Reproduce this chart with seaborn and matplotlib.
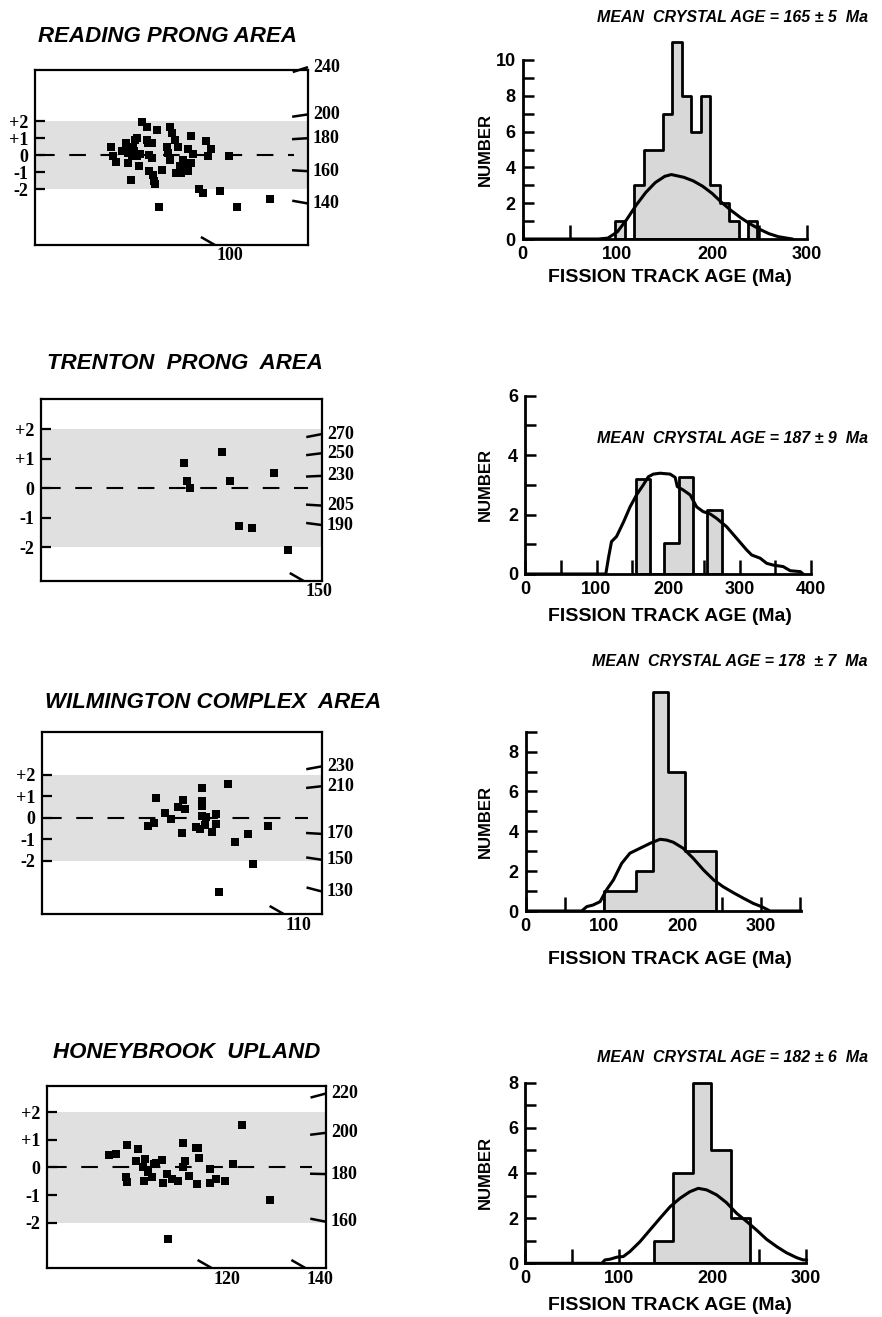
import matplotlib
matplotlib.use("Agg")
import numpy as np
import pandas as pd
import matplotlib.pyplot as plt
import seaborn as sns

# ------------------------------------------------------------------ data
region_titles = ["READING PRONG AREA", "TRENTON  PRONG  AREA",
                 "WILMINGTON COMPLEX  AREA", "HONEYBROOK  UPLAND"]
mean_age_texts = ["MEAN  CRYSTAL AGE = 165 \u00b1 5  Ma",
                  "MEAN  CRYSTAL AGE = 187 \u00b1 9  Ma",
                  "MEAN  CRYSTAL AGE = 178  \u00b1 7  Ma",
                  "MEAN  CRYSTAL AGE = 182 \u00b1 6  Ma"]
sigma_tick_values = [2, 1, 0, -1, -2]
sigma_tick_labels = ["+2", "+1", "0", "-1", "-2"]

# radial plots: x = relative precision (% of axis width), y = standardised estimate
reading_x = [27.7, 28.7, 29.8, 31.8, 33.5, 33.9, 35.0, 34.5, 35.4, 36.0, 36.6, 37.2, 37.4,
             38.0, 39.3, 40.9, 40.9, 41.5, 41.7, 42.7, 42.9, 43.3, 43.5, 43.9, 44.8, 45.4,
             46.5, 48.5, 48.8, 49.6, 50.0, 49.4, 51.2, 51.6, 52.4, 53.0, 53.4, 54.3, 54.9,
             55.5, 55.9, 56.1, 57.0, 57.3, 57.9, 60.1, 61.6, 62.6, 63.4, 64.6, 67.7, 71.1,
             73.9, 86.2, 34.0, 36.2, 38.6, 41.8]
reading_y = [0.49, -0.08, -0.43, 0.21, 0.70, -0.49, -1.44, 0.31, -0.08, 0.50, 0.89, 0.99,
             -0.08, -0.66, 1.96, 1.67, 0.89, 0.70, -0.95, -0.17, 0.70, -1.15, -1.53, -1.73,
             1.48, -3.03, -0.89, 0.50, 0.12, 1.67, 1.28, -0.27, 0.89, -1.05, 0.50, -0.66,
             -1.05, -0.27, -0.85, -0.47, -0.95, 0.37, -0.47, 1.13, 0.08, -2.02, -2.25, 0.80,
             -0.08, 0.35, -2.12, -0.08, -3.03, -2.60, 0.10, 0.22, 0.05, 0.02]
trenton_x = [50.9, 52.0, 53.2, 64.4, 67.3, 70.5, 75.1, 83.0, 87.8]
trenton_y = [0.84, 0.23, 0.0, 1.24, 0.25, -1.27, -1.36, 0.53, -2.09]
wilmington_x = [37.7, 40.0, 40.7, 43.8, 45.9, 48.7, 49.9, 50.4, 51.2, 54.9, 56.4, 57.2, 57.0,
                57.2, 57.3, 58.5, 58.3, 60.6, 62.2, 62.2, 63.2, 66.3, 69.1, 73.5, 75.2, 80.8]
wilmington_y = [-0.37, -0.23, 0.89, 0.23, -0.08, 0.48, -0.69, 0.82, 0.42, -0.45, -0.52, 1.38,
                0.78, 0.54, 0.09, 0.05, -0.34, -0.68, 0.17, -0.31, -3.43, 1.58, -1.12, -0.75,
                -2.14, -0.37]
honeybrook_x = [22.3, 24.9, 28.6, 28.3, 28.5, 31.9, 32.6, 34.5, 34.7, 35.3, 36.3, 37.7, 38.3,
                39.0, 41.3, 41.4, 43.1, 43.2, 44.9, 46.8, 48.6, 48.9, 49.6, 50.9, 53.4, 54.1,
                54.6, 53.9, 58.4, 58.4, 60.4, 63.7, 66.8, 69.8, 79.8]
honeybrook_y = [0.45, 0.48, 0.81, -0.34, -0.52, 0.23, 0.66, 0.0, -0.48, 0.30, -0.16, -0.34,
                0.11, 0.17, 0.27, -0.55, -0.24, -2.60, -0.40, -0.48, 0.87, 0.0, 0.24, -0.30,
                0.69, 0.69, 0.33, -0.61, -0.07, -0.55, -0.40, -0.48, 0.12, 1.55, -1.18]

# radial age-scale labels (Ma) and precision-scale labels
reading_age_labels = [240, 200, 180, 160, 140]
trenton_age_labels = [270, 250, 230, 205, 190]
wilmington_age_labels = [230, 210, 170, 150, 130]
honeybrook_age_labels = [220, 200, 180, 160]
reading_prec_labels = [100]
trenton_prec_labels = [150]
wilmington_prec_labels = [110]
honeybrook_prec_labels = [120, 140]

# histograms: bin edges (Ma) and counts
reading_edges = [98, 108, 118, 128, 138, 148, 158, 168, 178, 188, 198, 208, 218, 228, 238, 248]
reading_counts = [1, 0, 3, 5, 5, 7, 11, 8, 6, 8, 3, 2, 1, 0, 1]
trenton_edges = [155, 175, 195, 215, 235, 255, 275]
trenton_counts = [3.2, 0, 1.05, 3.25, 0, 2.15]
wilmington_edges = [100, 121, 141, 162, 182, 203, 223, 243]
wilmington_counts = [1, 1, 2, 11, 7, 3, 3]
honeybrook_edges = [138, 158, 179, 199, 220, 240]
honeybrook_counts = [1, 4, 8, 5, 2]

# probability-density curves
reading_curve_x = [0, 80, 90, 100, 110, 120, 130, 140, 150, 157, 170, 180, 190, 200, 210, 220,
                   230, 240, 250, 260, 270, 280, 285]
reading_curve_y = [0, 0, 0.05, 0.4, 1.1, 1.9, 2.6, 3.15, 3.5, 3.6, 3.45, 3.25, 2.95, 2.55, 2.05,
                   1.6, 1.2, 0.85, 0.55, 0.3, 0.13, 0.04, 0]
trenton_curve_x = [0, 113, 117, 121, 128, 138, 147, 156, 165.5, 172.5, 179.5, 189, 203, 210, 213,
                   221, 231, 240, 249, 259, 268, 282, 296, 310, 317, 329, 338, 347, 361, 371,
                   385, 389]
trenton_curve_y = [0, 0, 0.58, 1.09, 1.26, 1.76, 2.26, 2.66, 3.0, 3.27, 3.36, 3.39, 3.36, 3.25,
                   2.94, 2.83, 2.66, 2.26, 2.1, 2.02, 1.87, 1.59, 1.2, 0.81, 0.64, 0.53, 0.36,
                   0.30, 0.25, 0.11, 0.08, 0]
wilmington_curve_x = [0, 71.5, 78, 86, 95, 103, 112, 122.5, 133, 146, 159, 171.5, 180, 188.5,
                      201, 214, 227, 240, 252, 265, 278, 290.6, 301, 312, 352]
wilmington_curve_y = [0, 0, 0.22, 0.30, 0.47, 1.05, 1.56, 2.39, 2.9, 3.15, 3.4, 3.6, 3.56, 3.45,
                      3.15, 2.64, 2.06, 1.56, 1.22, 0.92, 0.64, 0.38, 0.22, 0, 0]
honeybrook_curve_x = [0, 82, 85.4, 90.7, 97.9, 105, 112, 122.8, 133.5, 144, 155, 165.5, 176, 185,
                      194, 204.6, 215, 226, 236.7, 247, 258, 268.7, 279, 290, 297, 300.7]
honeybrook_curve_y = [0, 0, 0.15, 0.18, 0.27, 0.30, 0.52, 0.96, 1.48, 1.99, 2.51, 2.88, 3.17,
                      3.32, 3.25, 3.03, 2.69, 2.21, 1.85, 1.48, 1.06, 0.74, 0.47, 0.25, 0.15, 0.15]

# ------------------------------------------------------------------ layout (pixels)
W, H = 882, 1317
radial_boxes = [(35, 70, 308, 245), (41, 399, 322, 581), (42, 732, 322, 914), (47, 1086, 326, 1268)]
radial_ylims = [(-5.29, 5.0), (-3.15, 3.03), (-4.46, 3.97), (-3.63, 2.94)]
age_tick_y = [[5.17, 2.39, 0.99, -0.95, -2.85],
              [1.84, 1.19, 0.42, -0.59, -1.25],
              [2.38, 1.46, -0.75, -1.95, -3.42],
              [2.67, 1.25, -0.24, -1.96]]
prec_tick_x = [[65.9], [93.5], [86.3], [59.0, 92.6]]
title_pos = [(38, 37), (47, 363), (45, 702), (53, 1053)]

# histogram axes: (x of age 0, y of count 0, px per Ma, px per count, xlim max, ylim max,
#                  x spine end, y spine end)
hist_geom = [(522.7, 239.0, 0.9467, 17.9, 310, 11.6, 300, 10),
             (525.0, 574.0, 0.715, 29.73, 410, 6.3, 400, 6),
             (525.7, 911.0, 0.7833, 19.92, 360, 11.6, 352, 9),
             (525.0, 1263.3, 0.9367, 22.58, 310, 8.5, 300, 8)]
mean_text_y = [18, 439, 662, 1058]
xlabel_y = [277, 617, 960, 1306]

BAND = "#e0e0e0"
FILL = "#d8d8d8"
SERIF = ["Liberation Serif", "DejaVu Serif"]
SANS = ["Liberation Sans", "DejaVu Sans"]

sns.set_theme(style="white")
plt.rcParams["font.family"] = SANS
plt.rcParams["text.color"] = "black"
plt.rcParams["axes.edgecolor"] = "black"
plt.rcParams["xtick.color"] = "black"
plt.rcParams["ytick.color"] = "black"

fig = plt.figure(figsize=(W / 100, H / 100), dpi=100)
fig.patch.set_facecolor("white")


def add_px_axes(x0, y0, x1, y1):
    return fig.add_axes([x0 / W, 1 - y1 / H, (x1 - x0) / W, (y1 - y0) / H])


def radial_panel(i, xs, ys, age_labels, prec_labels):
    ax = add_px_axes(*radial_boxes[i])
    ax.set_facecolor("white")
    sns.scatterplot(x=xs, y=ys, marker="s", s=32, color="black", edgecolor="black",
                    linewidth=0, ax=ax, zorder=4, legend=False)
    ax.set_xlim(0, 100)
    ax.set_ylim(*radial_ylims[i])
    ax.axhspan(-2, 2, color=BAND, lw=0, zorder=0)
    ax.axhline(0, xmin=0.01, xmax=0.95, color="black", lw=1.5, dashes=(8, 7), zorder=2)
    ax.set_xlabel("")
    ax.set_ylabel("")
    for sp in ax.spines.values():
        sp.set_visible(True)
        sp.set_linewidth(1.6)
        sp.set_color("black")
    ax.set_xticks([])
    ax.set_yticks(sigma_tick_values, sigma_tick_labels)
    ax.tick_params(axis="y", direction="in", length=7, width=1.6, pad=5, labelsize=13, left=True)
    for lab in ax.get_yticklabels():
        lab.set_fontfamily(SERIF)
        lab.set_fontweight("bold")
    to_disp = ax.transData.transform
    inv = ax.transData.inverted().transform
    origin = np.array(to_disp((0, 0)))
    for lab, yv in zip(age_labels, age_tick_y[i]):
        p = np.array(to_disp((100, yv)))
        d = origin - p
        d = d / np.hypot(*d) * 16
        q = inv(p + d)
        ax.plot([100, q[0]], [yv, q[1]], color="black", lw=1.8, clip_on=False,
                solid_capstyle="butt", zorder=5)
        ax.annotate(str(lab), (100, yv), xytext=(5, 0), textcoords="offset pixels",
                    ha="left", va="center", fontsize=13, fontweight="bold", family=SERIF,
                    annotation_clip=False)
    y0 = radial_ylims[i][0]
    for lab, xv in zip(prec_labels, prec_tick_x[i]):
        p = np.array(to_disp((xv, y0)))
        q = inv(p + np.array([-14, 8]))
        ax.plot([xv, q[0]], [y0, q[1]], color="black", lw=1.8, clip_on=False,
                solid_capstyle="butt", zorder=5)
        ax.annotate(str(lab), (xv, y0), xytext=(15, -11), textcoords="offset pixels",
                    ha="center", va="center", fontsize=13, fontweight="bold", family=SERIF,
                    annotation_clip=False)
    tx, ty = title_pos[i]
    fig.text(tx / W, 1 - ty / H, region_titles[i], fontsize=16, fontweight="bold",
             style="italic", ha="left", va="center", family=SANS)
    return ax


def hist_panel(i, edges, counts, cx, cy):
    x0, y0, sx, sy, xmax, ymax, xb, yb = hist_geom[i]
    ax = add_px_axes(x0, y0 - ymax * sy, x0 + xmax * sx, y0)
    ax.set_facecolor("none")
    e = np.asarray(edges, dtype=float)
    df = pd.DataFrame({"age": (e[:-1] + e[1:]) / 2, "n": list(counts)})
    sns.histplot(data=df, x="age", weights="n", bins=list(edges), element="step", fill=True,
                 facecolor=FILL, edgecolor="black", linewidth=2.0, alpha=1, ax=ax, zorder=2)
    cdf = pd.DataFrame({"age": cx, "p": cy})
    sns.lineplot(data=cdf, x="age", y="p", color="black", linewidth=2.2, ax=ax, zorder=3)
    ax.set_xlim(0, xmax)
    ax.set_ylim(0, ymax)
    ax.set_xlabel("")
    ax.set_ylabel("")
    for s in ("top", "right"):
        ax.spines[s].set_visible(False)
    for s in ("left", "bottom"):
        ax.spines[s].set_visible(True)
        ax.spines[s].set_linewidth(2.0)
        ax.spines[s].set_color("black")
    ax.spines["bottom"].set_bounds(0, xb)
    ax.spines["left"].set_bounds(0, yb)
    xt = np.arange(0, xb + 1, 50)
    ax.set_xticks(xt, [str(v) if v % 100 == 0 else "" for v in xt])
    yt = np.arange(0, yb + 1, 1)
    ax.set_yticks(yt, [str(v) if v % 2 == 0 else "" for v in yt])
    ax.tick_params(axis="x", direction="in", length=10, width=1.8, pad=5, labelsize=13,
                   bottom=True)
    ax.tick_params(axis="y", direction="in", length=8, width=1.8, pad=5, labelsize=13,
                   left=True)
    for lab in ax.get_xticklabels() + ax.get_yticklabels():
        lab.set_fontweight("bold")
    fig.text(868 / W, 1 - mean_text_y[i] / H, mean_age_texts[i], fontsize=11.5,
             fontweight="bold", style="italic", ha="right", va="center")
    fig.text(485 / W, 1 - (y0 - yb * sy / 2) / H, "NUMBER", rotation=90, fontsize=12,
             fontweight="bold", ha="center", va="center")
    fig.text(670 / W, 1 - xlabel_y[i] / H, "FISSION TRACK AGE (Ma)", fontsize=14,
             fontweight="bold", ha="center", va="center")
    return ax


radial_panel(0, reading_x, reading_y, reading_age_labels, reading_prec_labels)
radial_panel(1, trenton_x, trenton_y, trenton_age_labels, trenton_prec_labels)
radial_panel(2, wilmington_x, wilmington_y, wilmington_age_labels, wilmington_prec_labels)
radial_panel(3, honeybrook_x, honeybrook_y, honeybrook_age_labels, honeybrook_prec_labels)

hist_panel(0, reading_edges, reading_counts, reading_curve_x, reading_curve_y)
hist_panel(1, trenton_edges, trenton_counts, trenton_curve_x, trenton_curve_y)
hist_panel(2, wilmington_edges, wilmington_counts, wilmington_curve_x, wilmington_curve_y)
hist_panel(3, honeybrook_edges, honeybrook_counts, honeybrook_curve_x, honeybrook_curve_y)

fig.savefig("out.png", dpi=100, facecolor="white")
